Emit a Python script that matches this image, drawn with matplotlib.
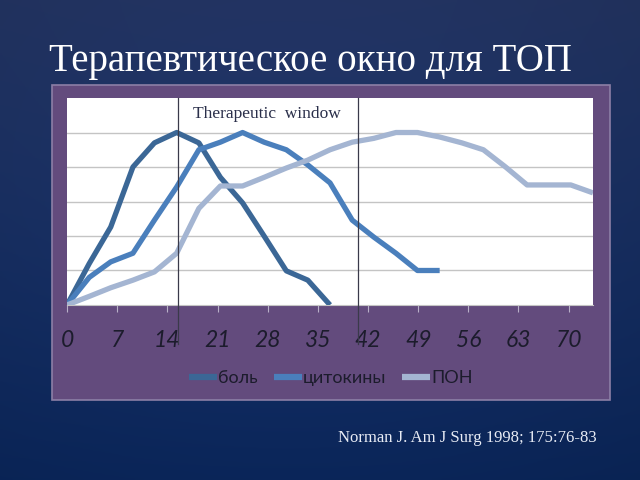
import numpy as np
import matplotlib
matplotlib.use("Agg")
import matplotlib.pyplot as plt
from matplotlib.patches import Rectangle

#====== DATA ==========================================
days = [0, 3.1, 6.1, 9.2, 12.2, 15.3, 18.4, 21.4, 24.5, 27.5, 30.6, 33.6, 36.7,
        39.8, 42.8, 45.9, 48.9, 52.0, 55.1, 58.1, 61.2, 64.2, 67.3, 70.3, 73.4]

pain = [0, 1.2, 2.26, 4.0, 4.7, 5.0, 4.7, 3.7, 2.96, 2.0, 0.99, 0.72, 0]
cytokines = [0, 0.8, 1.25, 1.5, 2.46, 3.42, 4.5, 4.72, 5.0, 4.72, 4.5, 4.06,
             3.54, 2.46, 1.97, 1.5, 1.0, 1.0]
mods = [0, 0.25, 0.5, 0.72, 0.96, 1.5, 2.8, 3.45, 3.45, 3.7, 3.97, 4.2, 4.5,
        4.72, 4.83, 5.0, 5.0, 4.87, 4.7, 4.5, 4.0, 3.48, 3.48, 3.48, 3.25]

series_names = ["боль", "цитокины", "ПОН"]
series_colors = ["#3b6796", "#4a7fbc", "#a4b5d2"]
x_ticks = [0, 7, 14, 21, 28, 35, 42, 49, 56, 63, 70]
window_bounds = [15.5, 40.6]

title = "Терапевтическое окно для ТОП"
citation = "Norman J. Am J Surg 1998; 175:76-83"

#====== FIGURE ========================================
fig = plt.figure(figsize=(6.4, 4.8), dpi=100)

# background gradient
bg = fig.add_axes([0, 0, 1, 1], zorder=-10)
yy, xx = np.mgrid[0:1:200j, 0:1:200j]
r = np.sqrt((xx - 0.45) ** 2 + (yy - 0.45) ** 2)
top = np.array([0x24, 0x36, 0x66]) / 255
bot = np.array([0x0b, 0x28, 0x5f]) / 255
img = top * (1 - yy[..., None]) + bot * yy[..., None]
img = img * (1 - 0.25 * np.clip(r[..., None] - 0.3, 0, 1))
bg.imshow(img, extent=[0, 1, 0, 1], aspect="auto", origin="upper")
bg.axis("off")

# purple chart box
fig.patches.append(Rectangle((0.081, 0.1667), 0.872, 0.656, transform=fig.transFigure,
                             facecolor="#634b7d", edgecolor="#8c7fa6", lw=1.2, zorder=-5))

fig.text(0.076, 0.872, title, color="white", fontsize=28,
         family="Liberation Serif", va="center", ha="left")
fig.text(0.528, 0.088, citation, color="#e8ecf5", fontsize=12,
         family="Liberation Serif", va="center", ha="left")

ax = fig.add_axes([0.1047, 0.3646, 0.8219, 0.4312])
ax.set_facecolor("white")

data = [pain, cytokines, mods]
for name, vals, col in zip(series_names, data, series_colors):
    ax.plot(days[:len(vals)], vals, color=col, lw=3.8, label=name,
            solid_joinstyle="round", solid_capstyle="butt", zorder=3)

for xb in window_bounds:
    ax.axvline(xb, ymin=-0.19, ymax=1, color="#3a3a4a", lw=0.9, clip_on=False, zorder=4)

ax.text(17.6, 5.55, "Therapeutic  window", color="#2a2f4a", fontsize=12.5,
        family="Liberation Serif", va="center", ha="left")

ax.set_xlim(0, 73.4)
ax.set_ylim(0, 6)
ax.set_yticks([1, 2, 3, 4, 5])
ax.yaxis.grid(True, color="#c4c4c4", lw=1)
ax.tick_params(axis="y", left=False, labelleft=False)
ax.set_xticks(x_ticks)
ax.set_xticklabels([str(t) for t in x_ticks], fontsize=16.5, style="italic",
                   family="Lato", color="#1c1c2c")
ax.tick_params(axis="x", length=5, color="#b9b0c8", pad=13)
for s in ["left", "right", "top"]:
    ax.spines[s].set_visible(False)
ax.spines["bottom"].set_color("#c4c4c4")

fig.legend(loc="center", bbox_to_anchor=(0.517, 0.2125), ncol=3, frameon=False,
           handlelength=1.55, handletextpad=0.05, columnspacing=0.9,
           prop={"family": "Lato", "size": 13}, labelcolor="#1c1c2c")
for line in fig.legends[0].get_lines():
    line.set_linewidth(4.5)

fig.savefig("out.png", dpi=100, facecolor=fig.get_facecolor())
